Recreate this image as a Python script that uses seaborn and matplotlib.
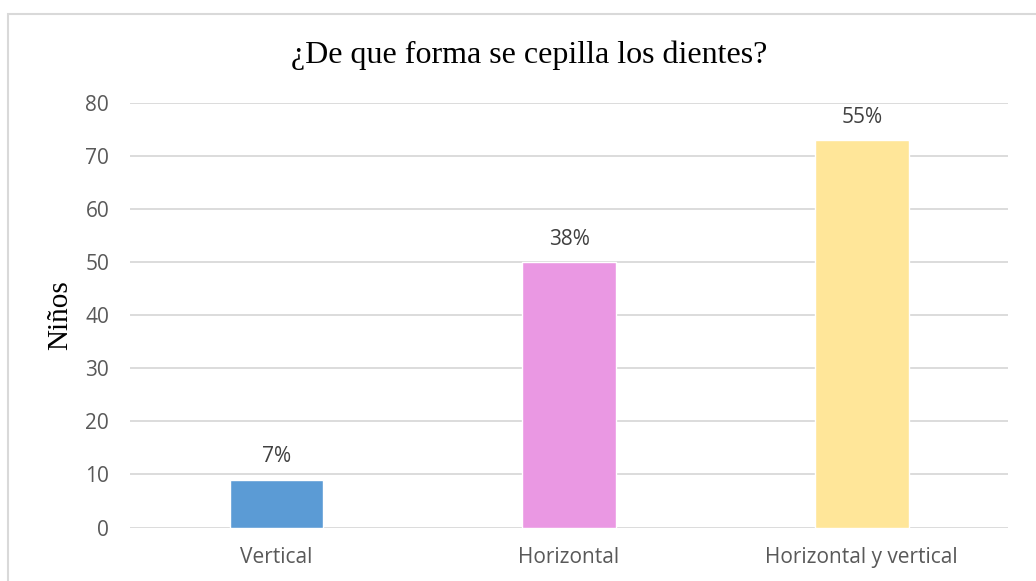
import matplotlib
matplotlib.use("Agg")
import matplotlib.pyplot as plt
import seaborn as sns
import pandas as pd
from matplotlib.patches import Rectangle

categories = ["Vertical", "Horizontal", "Horizontal y vertical"]
values = [9, 50, 73]
colors = ["#5B9BD5", "#EA98E3", "#FFE699"]
y_ticks = [0, 10, 20, 30, 40, 50, 60, 70, 80]

sns.set_theme(style="white")
plt.rcParams["font.family"] = ["Open Sans", "DejaVu Sans"]

df = pd.DataFrame({"forma": categories, "ninos": values})

fig = plt.figure(figsize=(10.36, 5.81), dpi=100)
ax = fig.add_axes([0.1255, 0.092, 0.8475, 0.7307])

sns.barplot(data=df, x="forma", y="ninos", hue="forma", palette=colors,
            width=0.32, saturation=1, legend=False, ax=ax, zorder=3)

ax.set_ylim(0, 80)
ax.set_yticks(y_ticks)
ax.yaxis.grid(True, color="#D9D9D9", linewidth=1.3, zorder=0)
ax.xaxis.grid(False)
for s in ax.spines.values():
    s.set_visible(False)
ax.tick_params(axis="both", length=0, labelsize=15, labelcolor="#595959")
ax.tick_params(axis="y", pad=15)
ax.tick_params(axis="x", pad=14)
ax.set_xlabel("")
ax.set_ylabel("")

fig.text(60 / 1036, 1 - 315 / 581, "Niños", rotation=90, ha="center", va="center",
         family="Liberation Serif", fontsize=21, color="black")

total = sum(values)
for i, v in enumerate(values):
    ax.text(i, v + 3.3, f"{round(v / total * 100)}%", ha="center", va="baseline",
            fontsize=15, color="#404040")

fig.text(0.5106, 1 - 63 / 581, "¿De que forma se cepilla los dientes?", ha="center",
         va="baseline", family="Liberation Serif", fontsize=23, color="black")

fig.patches.append(Rectangle((8 / 1036, -0.05), 1.2, 0.05 + 1 - 14 / 581,
                             transform=fig.transFigure, fill=False,
                             edgecolor="#D9D9D9", linewidth=1.5))

fig.savefig("out.png", dpi=100, facecolor="white")
